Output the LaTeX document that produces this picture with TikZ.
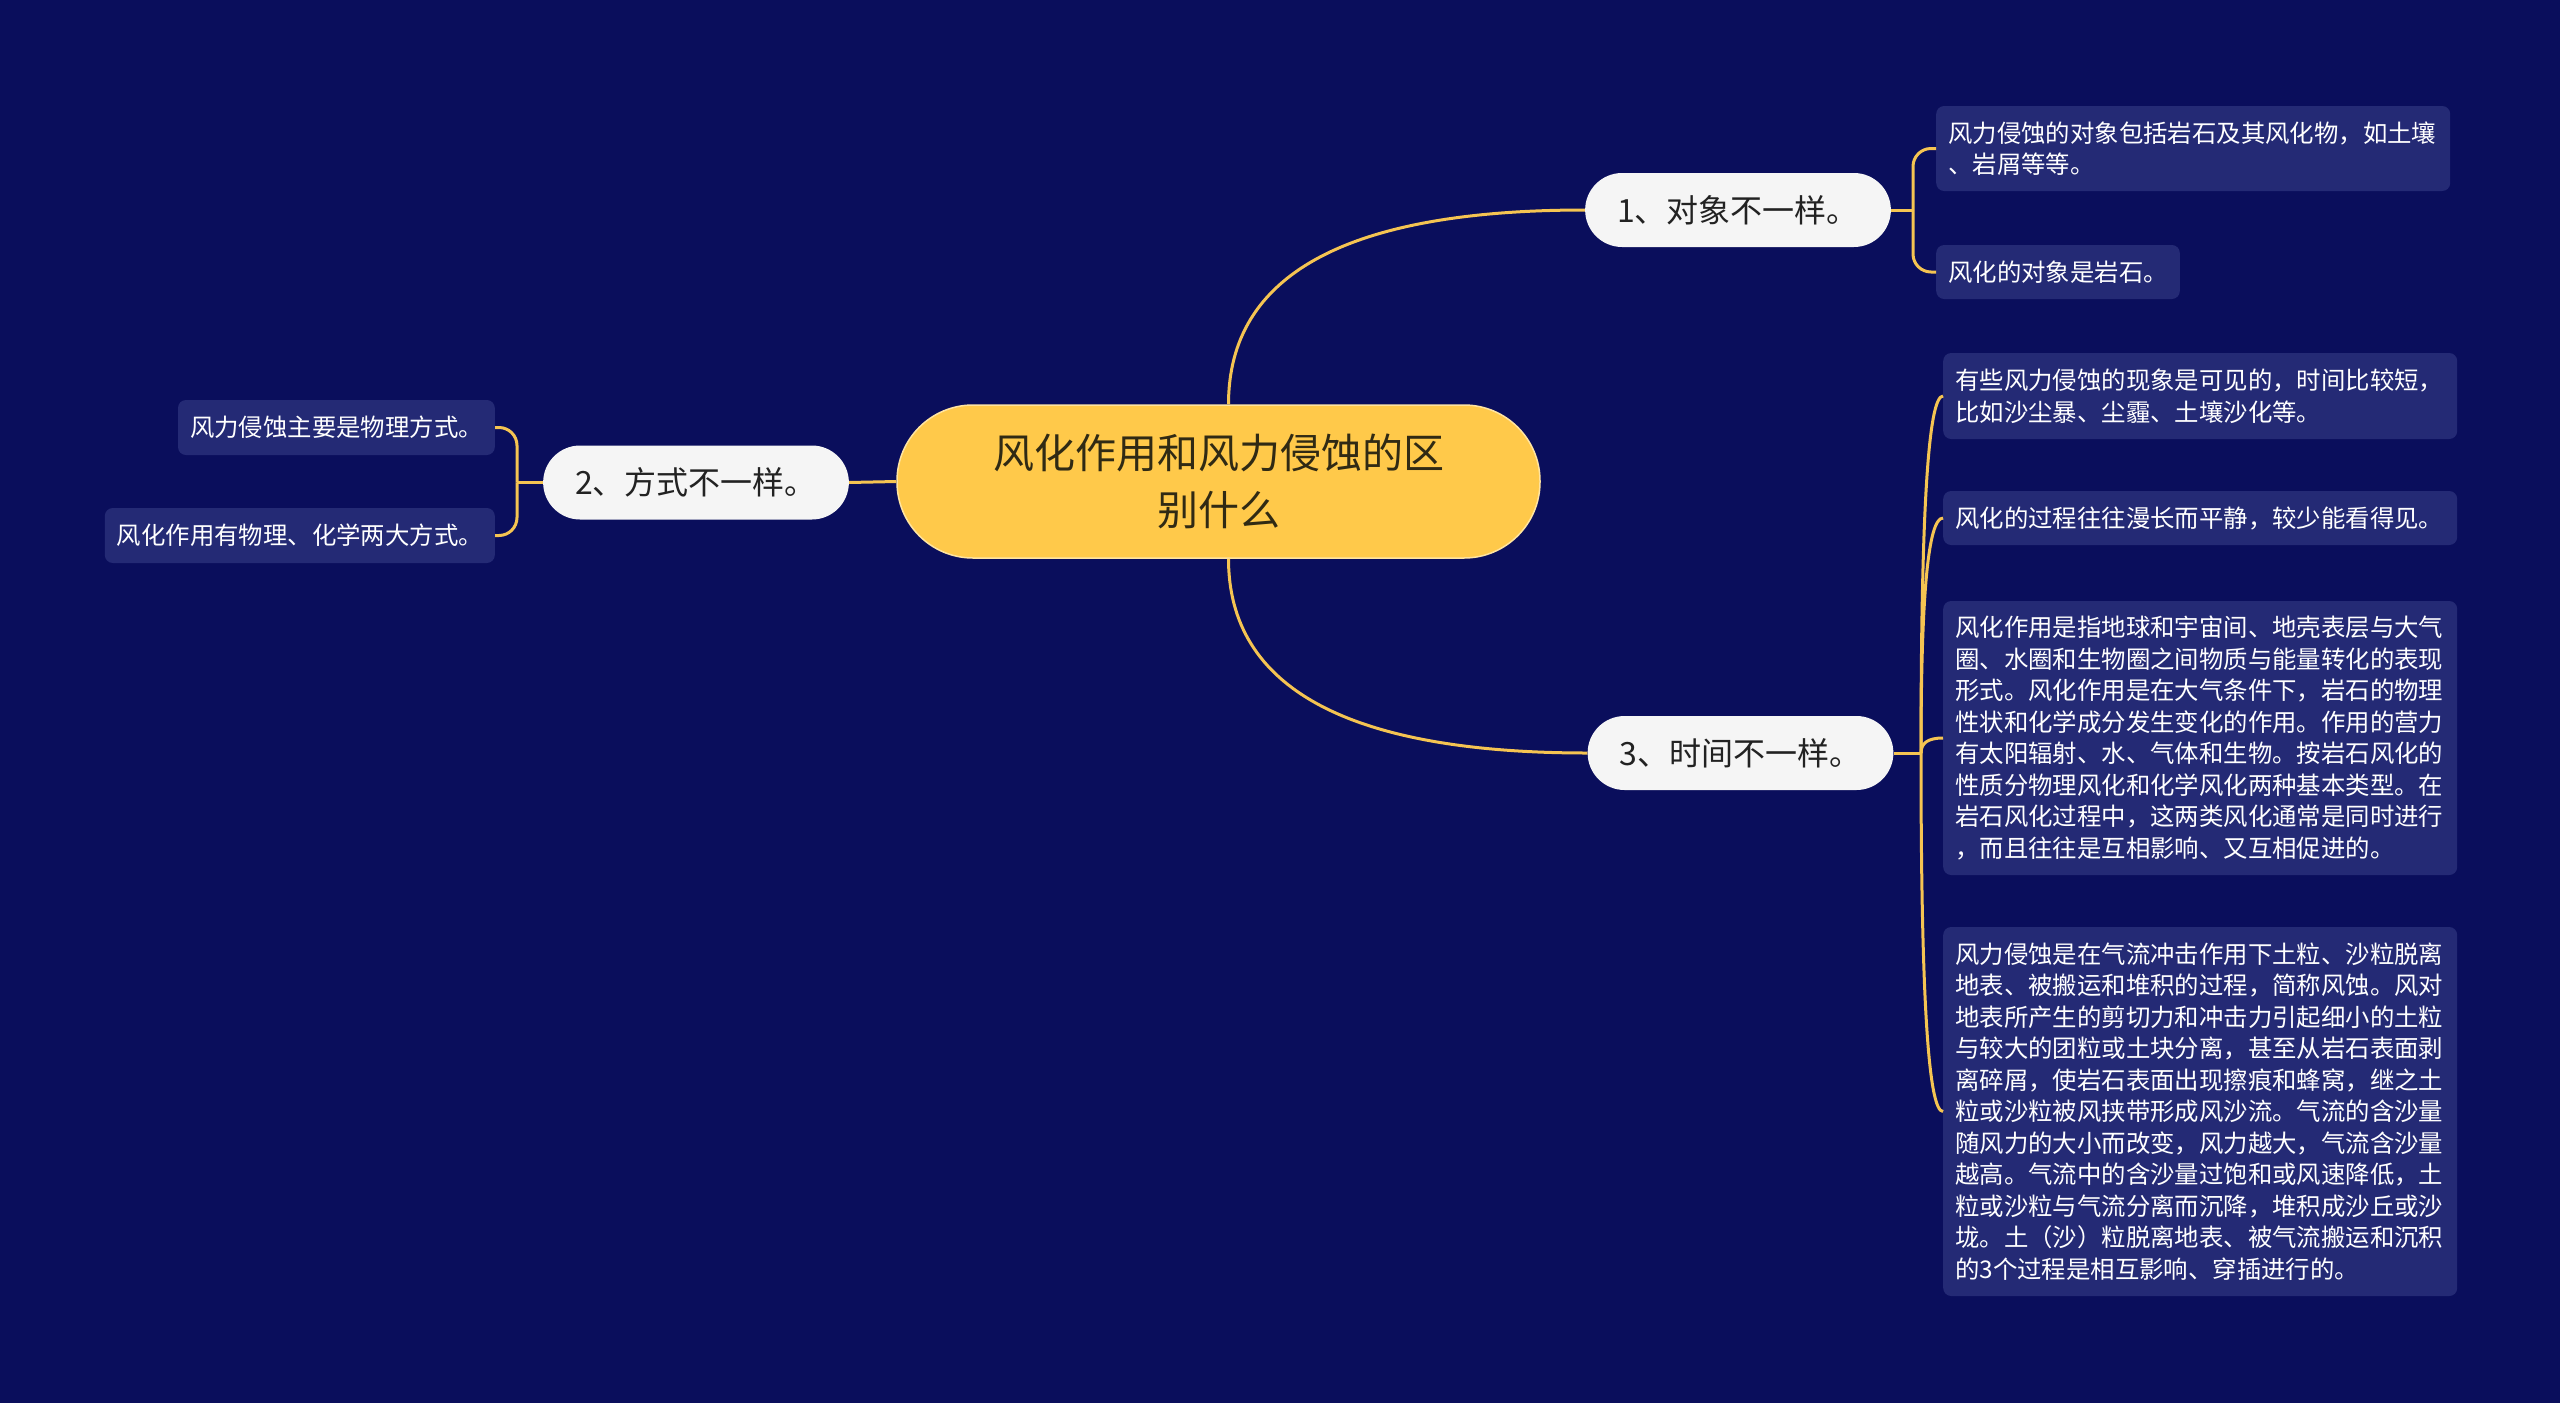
\documentclass[tikz,border=0pt]{standalone}
\usepackage{fontspec}
\newfontfamily\cjk{Noto Sans CJK SC}
\definecolor{bgc}{RGB}{10,14,92}
\definecolor{leafc}{RGB}{36,42,117}
\definecolor{rootc}{RGB}{255,201,74}
\definecolor{rootedge}{RGB}{255,228,160}
\definecolor{linec}{RGB}{245,196,82}
\definecolor{nodec}{RGB}{245,245,245}
\definecolor{roottext}{RGB}{48,42,20}
\definecolor{subtext}{RGB}{34,34,34}
\begin{document}
\begin{tikzpicture}[x=1pt,y=-1pt,
  rootbox/.style={fill=rootc, draw=rootedge, line width=1.5pt, rounded corners=76pt,
    minimum width=643pt, minimum height=153pt, inner sep=0pt, align=center,
    text=roottext, font=\cjk\fontsize{41}{57}\selectfont},
  subbox/.style={fill=nodec, rounded corners=37pt, minimum height=74pt,
    inner xsep=32pt, inner ysep=0pt, text=subtext, font=\cjk\fontsize{32}{40}\selectfont},
  leafbox/.style={fill=leafc, rounded corners=8pt, inner xsep=12pt, inner ysep=0pt,
    align=left, text=white, font=\cjk\fontsize{24.4}{31.5}\selectfont},
  widebox/.style={leafbox, text width=490pt},
  conn/.style={draw=linec, line width=3pt}]
\path[fill=bgc, use as bounding box] (0,0) rectangle (2560,1403);

% central topic
\node[rootbox] (root) at (1218.5,481.5) {风化作用和风力侵蚀的区\\别什么};

% main branches
\node[subbox] (n1) at (1738,210) {1、对象不一样。};
\node[subbox] (n2) at (696,482.5) {2、方式不一样。};
\node[subbox] (n3) at (1740.5,753) {3、时间不一样。};

% leaves of branch 1
\node[widebox, anchor=west, minimum height=85pt] (l1a) at (1936,148.5)
  {风力侵蚀的对象包括岩石及其风化物，如土壤\\、岩屑等等。};
\node[leafbox, anchor=west, minimum height=54pt] (l1b) at (1936,272)
  {风化的对象是岩石。};

% leaves of branch 2
\node[leafbox, anchor=east, minimum height=55pt] (l2a) at (495,427.5)
  {风力侵蚀主要是物理方式。};
\node[leafbox, anchor=east, minimum height=55pt] (l2b) at (495,535.5)
  {风化作用有物理、化学两大方式。};

% leaves of branch 3
\node[widebox, anchor=west, minimum height=86pt] (l3a) at (1943,396)
  {有些风力侵蚀的现象是可见的，时间比较短，\\比如沙尘暴、尘霾、土壤沙化等。};
\node[widebox, anchor=west, minimum height=54pt] (l3b) at (1943,518)
  {风化的过程往往漫长而平静，较少能看得见。};
\node[widebox, anchor=west, minimum height=274pt] (l3c) at (1943,738)
  {风化作用是指地球和宇宙间、地壳表层与大气\\
   圈、水圈和生物圈之间物质与能量转化的表现\\
   形式。风化作用是在大气条件下，岩石的物理\\
   性状和化学成分发生变化的作用。作用的营力\\
   有太阳辐射、水、气体和生物。按岩石风化的\\
   性质分物理风化和化学风化两种基本类型。在\\
   岩石风化过程中，这两类风化通常是同时进行\\
   ，而且往往是互相影响、又互相促进的。};
\node[widebox, anchor=west, minimum height=369pt] (l3d) at (1943,1111.5)
  {风力侵蚀是在气流冲击作用下土粒、沙粒脱离\\
   地表、被搬运和堆积的过程，简称风蚀。风对\\
   地表所产生的剪切力和冲击力引起细小的土粒\\
   与较大的团粒或土块分离，甚至从岩石表面剥\\
   离碎屑，使岩石表面出现擦痕和蜂窝，继之土\\
   粒或沙粒被风挟带形成风沙流。气流的含沙量\\
   随风力的大小而改变，风力越大，气流含沙量\\
   越高。气流中的含沙量过饱和或风速降低，土\\
   粒或沙粒与气流分离而沉降，堆积成沙丘或沙\\
   垅。土（沙）粒脱离地表、被气流搬运和沉积\\
   的3个过程是相互影响、穿插进行的。};

% connectors from the central topic
\draw[conn] ([xshift=10pt]root.north) .. controls +(0,-130) and +(-238,0) .. (n1.west);
\draw[conn] ([xshift=10pt]root.south) .. controls +(0,130) and +(-238,0) .. (n3.west);
\draw[conn] (root.west) -- (n2.east);

% bracket of branch 1
\coordinate (b1) at (1913,210);
\draw[conn] (n1.east) -- (b1);
\draw[conn, rounded corners=18pt] (b1) |- (l1a.west);
\draw[conn, rounded corners=18pt] (b1) |- (l1b.west);

% bracket of branch 2
\coordinate (b2) at (517,482.5);
\draw[conn] (n2.west) -- (b2);
\draw[conn, rounded corners=18pt] (b2) |- (l2a.east);
\draw[conn, rounded corners=18pt] (b2) |- (l2b.east);

% fan of branch 3
\coordinate (j3) at (1921,753);
\draw[conn] (n3.east) -- (j3);
\draw[conn] (j3) .. controls +(0,-238) and +(-15,0) .. (l3a.west);
\draw[conn] (j3) .. controls +(0,-157) and +(-15,0) .. (l3b.west);
\draw[conn] (j3) .. controls +(0,-10) and +(-15,0) .. (l3c.west);
\draw[conn] (j3) .. controls +(0,239) and +(-15,0) .. (l3d.west);
\end{tikzpicture}
\end{document}
